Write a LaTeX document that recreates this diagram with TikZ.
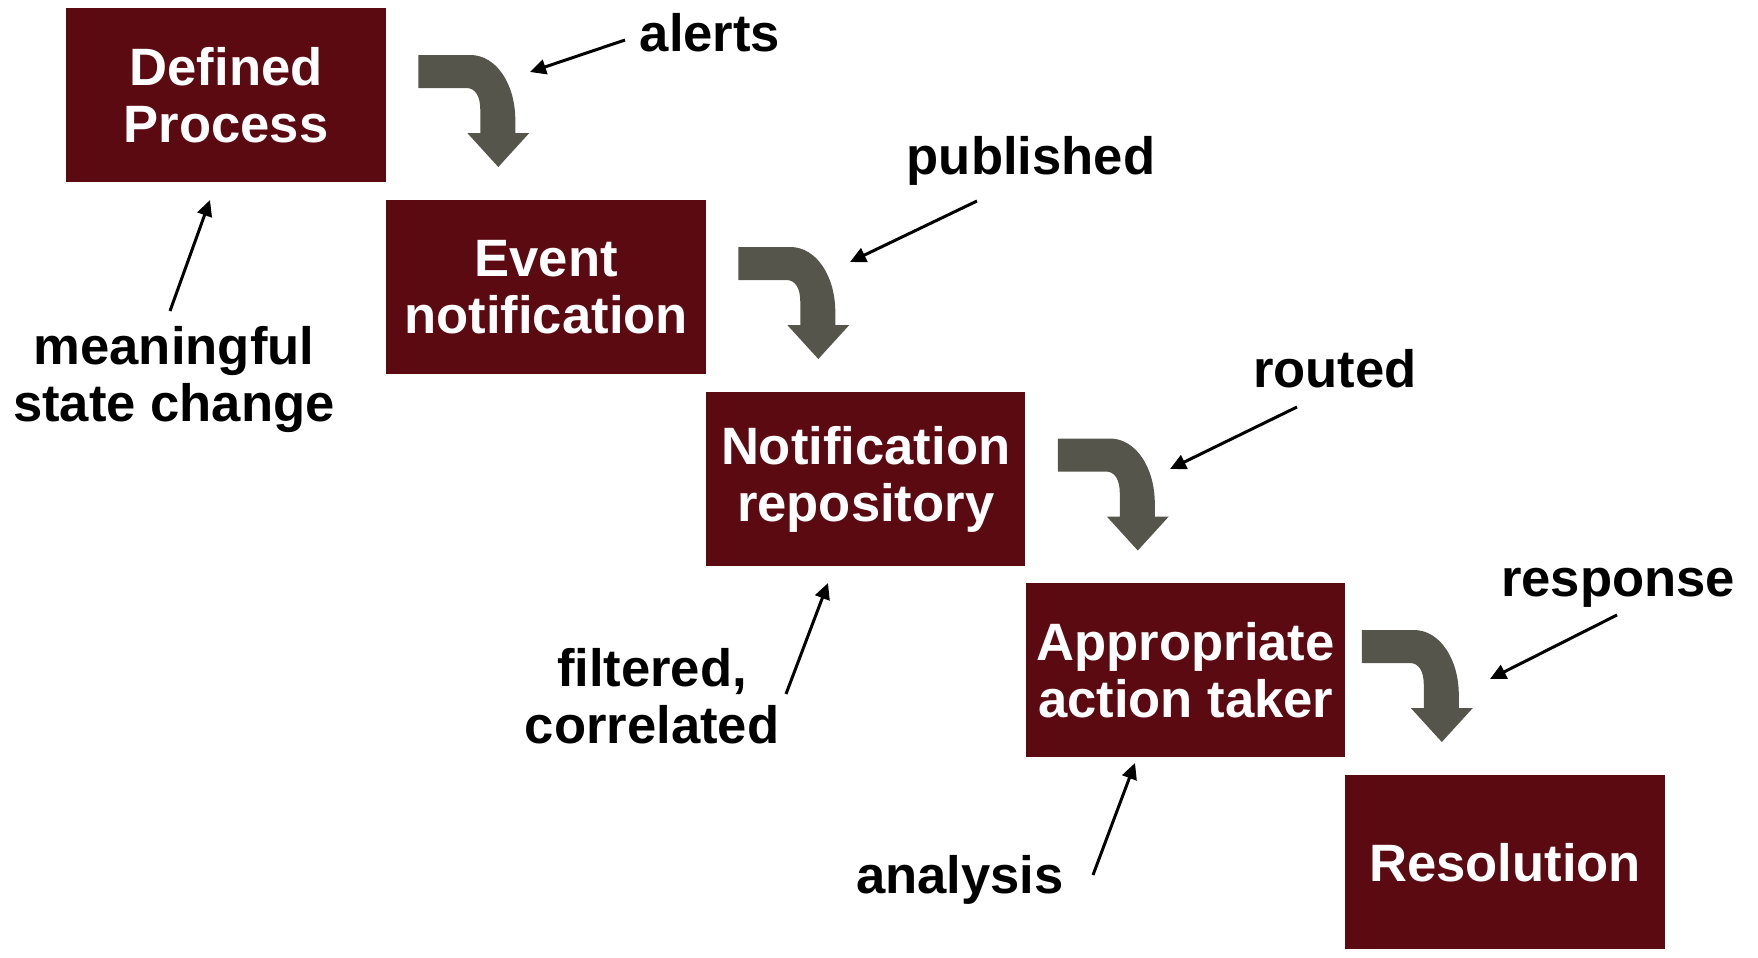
\documentclass[tikz,border=0pt]{standalone}
\usepackage{fontspec}
\setmainfont{Liberation Sans}
\usetikzlibrary{arrows.meta}
\definecolor{boxred}{HTML}{5C0A12}
\definecolor{bendgray}{HTML}{55554B}
\tikzset{
  stagebox/.style={rectangle, fill=boxred, text=white, anchor=north west,
    minimum width=159.75pt, minimum height=87pt, inner sep=0pt, align=center,
    font=\fontsize{26.3}{28.5}\selectfont\bfseries},
  lbl/.style={text=black, inner sep=0pt, align=center, anchor=base,
    font=\fontsize{26.3}{28.5}\selectfont\bfseries},
  pointer/.style={draw=black, line width=1.5pt, -{Triangle[length=8pt,width=7.5pt]}},
  bendshape/.style={fill=bendgray, draw=none}
}
\newcommand{\bendarrow}[2][0]{%
  \begin{scope}[shift={(#2.north east)}, xshift=#1*0.5pt]
    \fill[bendshape] (32,47) -- (84,47) .. controls (110,47) and (129,76) .. (129,112)
      -- (129,125) -- (143,125) -- (112,159) -- (81,125) -- (94,125) -- (94,102)
      .. controls (94,88) and (89,80) .. (80,80) -- (32,80) -- cycle;
  \end{scope}}
\begin{document}
\begin{tikzpicture}[x=0.5pt,y=-0.5pt]
\useasboundingbox (0,0) rectangle (1758,958);
% boxes
\node[stagebox] (b1) at (66,8) {Defined\\Process};
\node[stagebox] (b2) at (386,200) {Event\\notification};
\node[stagebox] (b3) at (705.5,391.5) {Notification\\repository};
\node[stagebox] (b4) at (1025.5,583) {Appropriate\\action taker};
\node[stagebox] (b5) at (1345,775) {Resolution};
% bent arrows
\bendarrow{b1}
\bendarrow{b2}
\bendarrow{b3}
\bendarrow[-16]{b4}
% labels
\node[lbl] (alerts) at (710,51) {alerts};
\node[lbl] (published) at (1031,174) {published};
\node[lbl] (routed) at (1335,387) {routed};
\node[lbl] (response) at (1618,596) {response};
\node[lbl] (meaningful) at (174,421) {meaningful\\state change};
\node[lbl] (filtered) at (652,743) {filtered,\\correlated};
\node[lbl] (analysis) at (960,893) {analysis};
% pointer coordinates
\coordinate (alertsT) at (625,40);   \coordinate (alertsH) at (530,72);
\coordinate (pubT) at (977,201);     \coordinate (pubH) at (850,262);
\coordinate (routT) at (1297,407);   \coordinate (routH) at (1170,469);
\coordinate (respT) at (1617,615);   \coordinate (respH) at (1490,679);
\coordinate (meanT) at (170,311);    \coordinate (meanH) at (210,200);
\coordinate (filtT) at (786,694);    \coordinate (filtH) at (828,583);
\coordinate (analT) at (1093,875);   \coordinate (analH) at (1135,763);
\draw[pointer] (alertsT) -- (alertsH);
\draw[pointer] (pubT) -- (pubH);
\draw[pointer] (routT) -- (routH);
\draw[pointer] (respT) -- (respH);
\draw[pointer] (meanT) -- (meanH);
\draw[pointer] (filtT) -- (filtH);
\draw[pointer] (analT) -- (analH);
\end{tikzpicture}
\end{document}
